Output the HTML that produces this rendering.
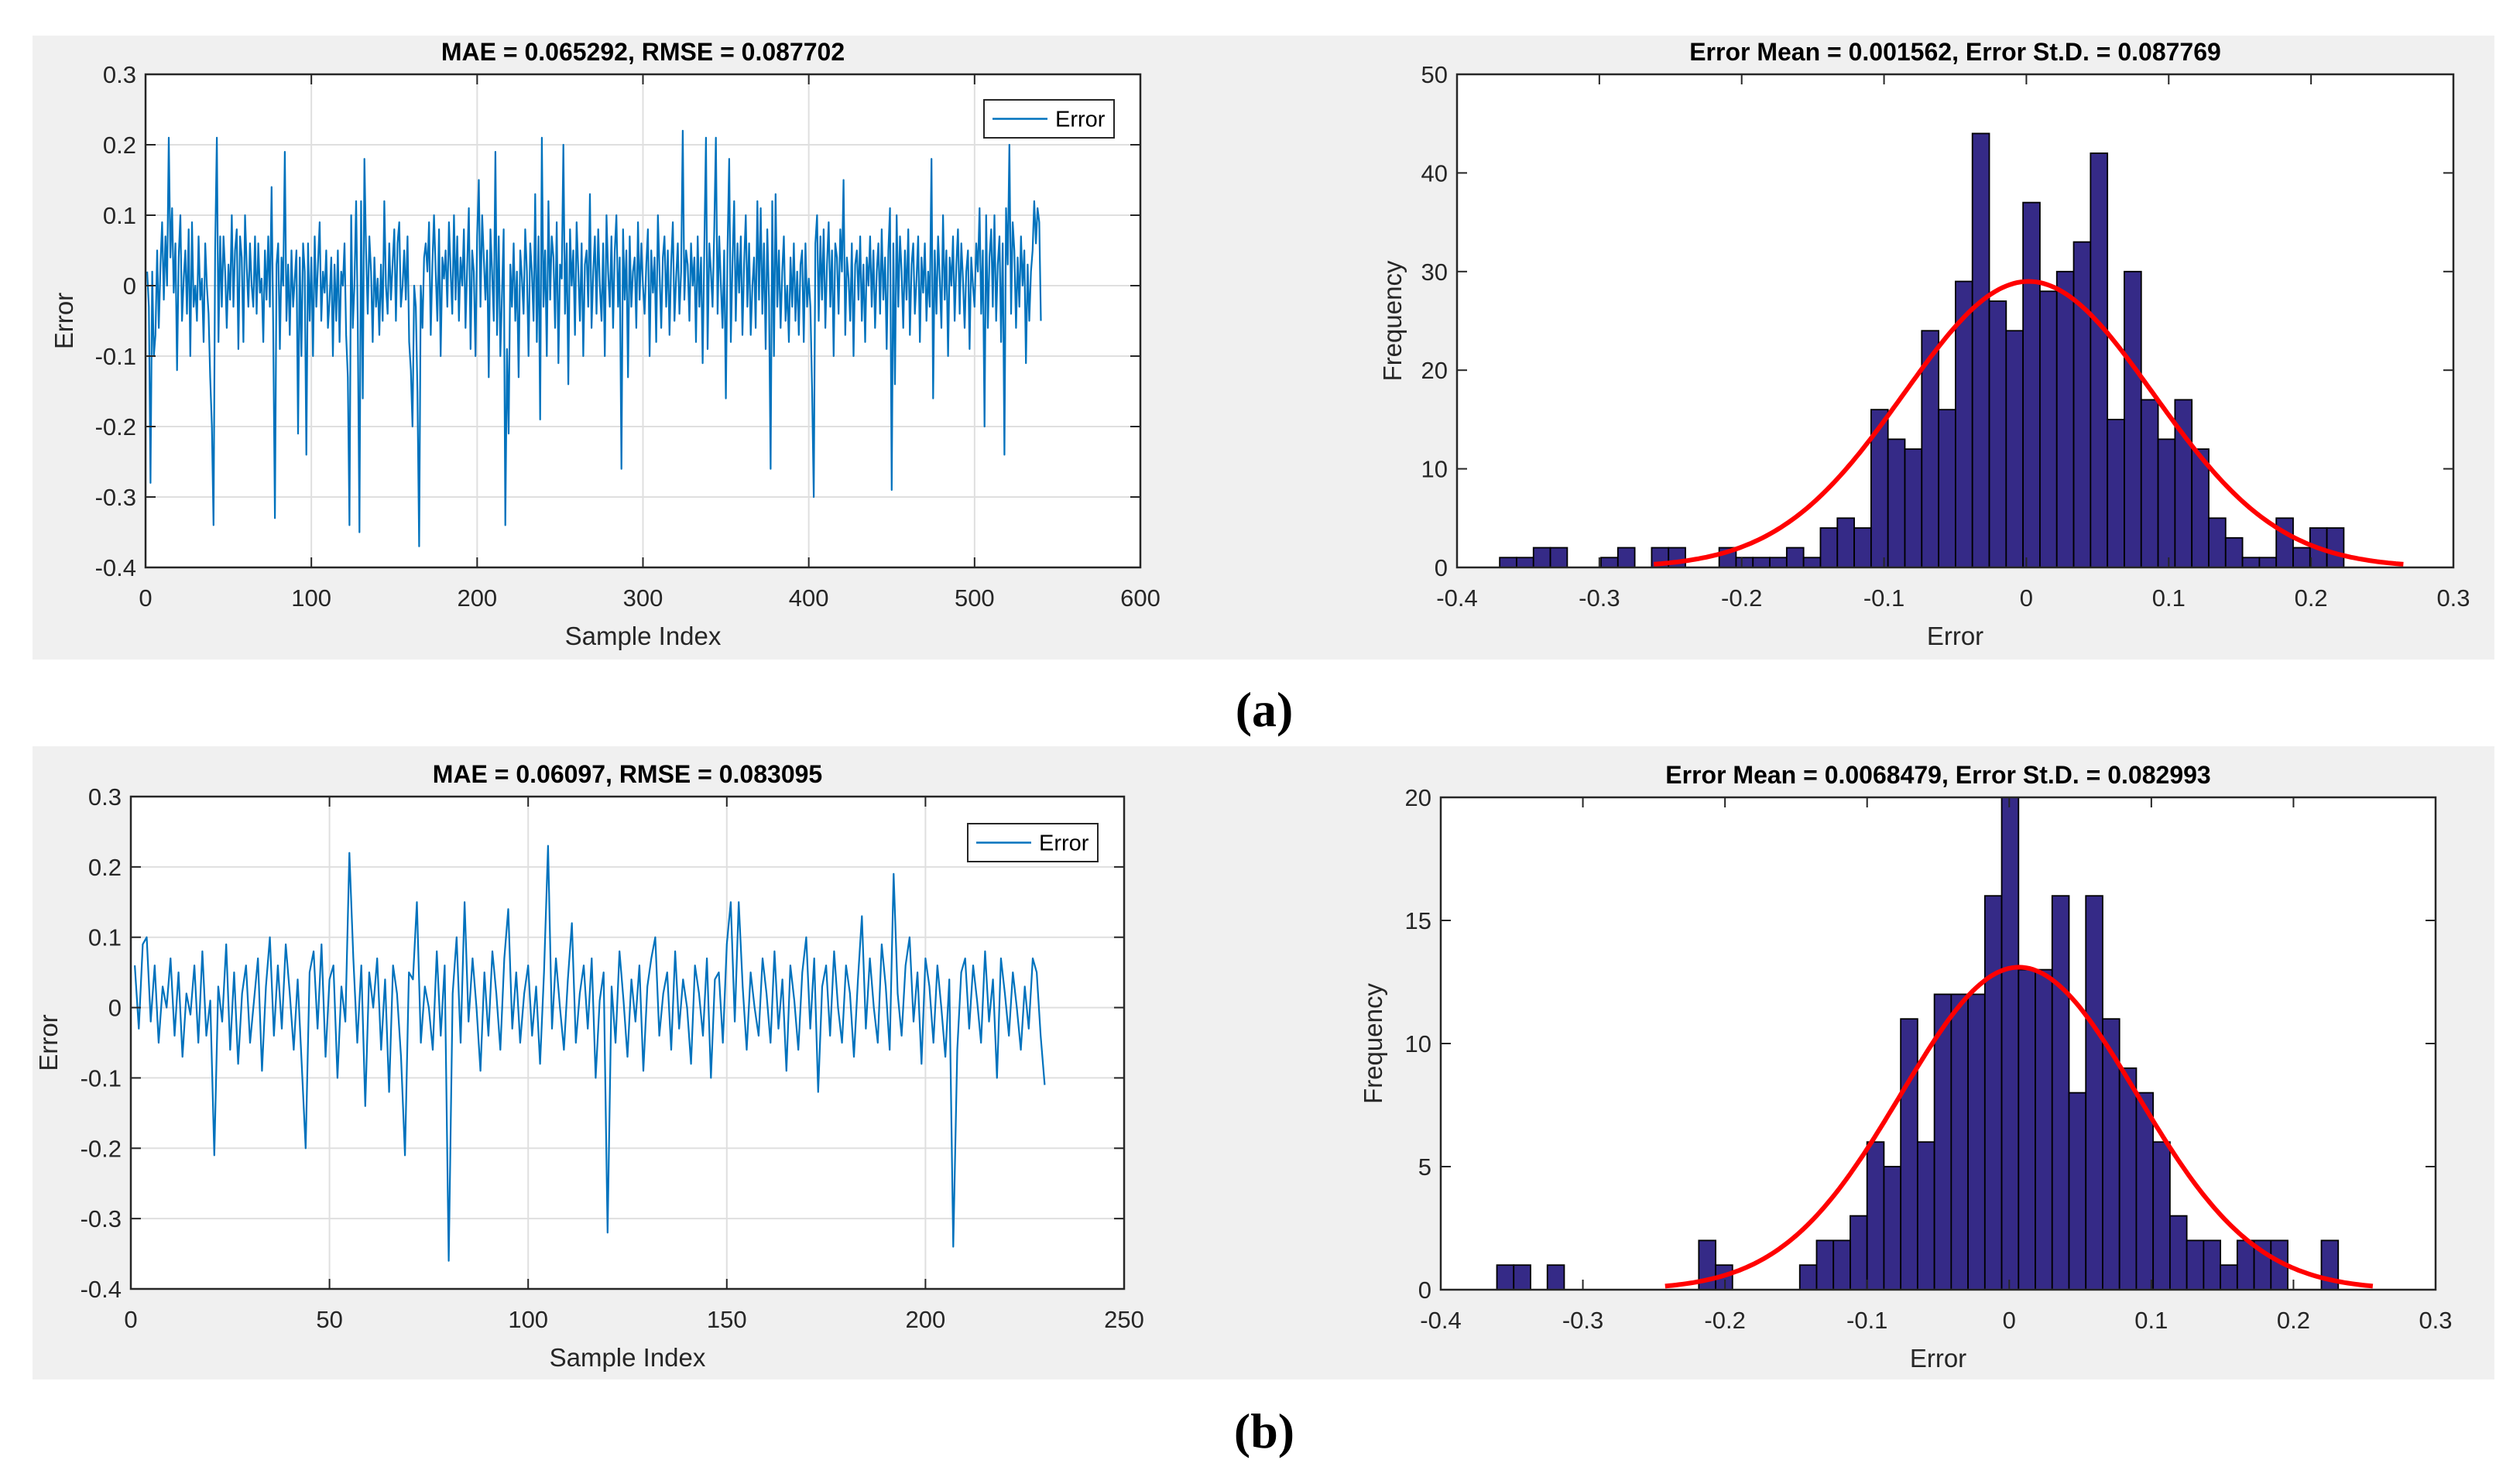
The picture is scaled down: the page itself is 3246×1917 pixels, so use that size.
<!DOCTYPE html>
<html><head><meta charset="utf-8"><style>
html,body{margin:0;padding:0;background:#fff;}
svg{display:block;font-family:"Liberation Sans",sans-serif;}
</style></head><body>
<svg id="fig" width="3246" height="1917" viewBox="0 0 3246 1917" xmlns="http://www.w3.org/2000/svg">
<rect x="42" y="46" width="3180" height="806" fill="#f0f0f0"/>
<rect x="42" y="964" width="3180" height="818" fill="#f0f0f0"/>
<text x="1633" y="938" font-family="Liberation Serif,serif" font-size="64" font-weight="bold" text-anchor="middle">(a)</text>
<text x="1633" y="1870" font-family="Liberation Serif,serif" font-size="64" font-weight="bold" text-anchor="middle">(b)</text>
</svg>
<script>
// ---- data: panel (a) error series ----
const errA = [
0.02,-0.03,-0.28,0.02,-0.1,-0.07,0.05,-0.06,0.03,0.09,-0.02,0.07,0.0,0.21,0.04,0.11,-0.01,0.06,-0.12,0.04,
0.1,-0.05,0.01,0.05,-0.04,0.08,-0.1,0.09,-0.03,0.0,-0.05,0.07,-0.02,0.01,-0.08,0.06,0.0,-0.04,-0.13,-0.2,
-0.34,0.05,0.21,-0.08,0.07,-0.03,0.07,0.02,-0.06,0.03,-0.02,0.1,-0.03,0.05,0.08,-0.09,0.07,0.04,-0.08,0.1,
0.03,-0.03,0.06,0.0,-0.03,0.07,-0.04,0.06,-0.01,0.01,-0.08,0.05,-0.02,0.07,-0.03,0.14,-0.06,-0.33,0.03,0.06,
-0.09,0.04,0.0,0.19,-0.05,0.03,-0.07,0.05,-0.03,0.01,0.05,-0.21,0.04,-0.1,0.06,0.02,-0.24,0.06,-0.05,0.04,
-0.1,0.07,-0.03,0.03,0.09,-0.05,0.02,-0.01,0.05,-0.06,-0.02,0.04,-0.1,0.03,-0.05,0.05,-0.08,0.02,0.0,0.06,
-0.07,-0.13,-0.34,0.1,-0.06,0.0,0.12,-0.05,-0.35,0.12,-0.16,0.18,0.05,-0.04,0.07,0.02,-0.08,0.04,-0.03,0.01,
-0.07,0.03,-0.05,0.12,0.0,-0.04,0.06,-0.02,0.03,0.08,-0.05,0.06,0.09,-0.03,0.0,0.05,-0.02,0.07,-0.08,-0.12,
-0.2,0.0,-0.03,-0.15,-0.37,0.0,-0.06,0.04,0.06,0.02,0.09,-0.07,0.03,0.1,0.02,-0.05,0.08,-0.1,0.04,0.01,
0.05,-0.03,0.09,0.02,-0.04,0.1,-0.02,0.07,-0.05,0.04,0.0,0.08,-0.06,0.03,0.11,-0.09,0.05,0.02,-0.1,0.07,
0.15,-0.03,0.1,0.04,-0.02,0.05,-0.13,0.08,0.02,-0.05,0.19,-0.07,0.07,-0.1,-0.01,0.08,-0.34,-0.09,-0.21,0.03,
-0.03,0.06,-0.05,0.02,-0.13,0.05,0.01,-0.04,0.08,0.02,-0.1,0.06,0.02,-0.05,0.13,-0.08,0.07,-0.19,0.21,-0.03,
0.05,-0.1,0.12,-0.02,0.07,0.04,-0.06,0.09,-0.11,0.03,0.01,0.2,-0.04,0.06,-0.14,0.08,0.0,0.05,-0.07,0.09,
0.02,-0.05,0.06,-0.1,0.03,0.05,-0.03,0.13,-0.06,0.02,0.07,-0.04,0.08,0.0,-0.05,0.06,-0.1,0.1,0.02,-0.03,
0.07,-0.06,0.05,0.1,-0.03,0.04,-0.26,0.08,-0.02,0.05,-0.13,0.07,-0.03,0.02,0.04,-0.06,0.09,-0.02,0.06,0.0,
-0.04,0.03,0.08,-0.1,0.05,-0.01,0.04,-0.08,0.1,0.02,-0.06,0.04,0.07,-0.03,0.05,-0.07,0.03,0.09,-0.05,0.01,
0.06,-0.04,0.02,0.22,-0.02,0.05,0.03,-0.05,0.06,0.0,0.04,-0.08,0.07,-0.03,0.04,-0.11,0.05,0.21,-0.09,0.06,
0.02,-0.03,0.08,0.21,-0.04,0.07,0.0,-0.06,0.05,-0.16,0.05,0.18,-0.08,0.03,0.12,-0.05,0.06,-0.01,0.07,-0.07,
0.03,0.1,-0.03,0.06,-0.07,0.0,0.04,-0.06,0.12,-0.02,0.11,-0.04,0.06,-0.09,0.08,-0.02,-0.26,0.12,-0.1,0.13,
-0.03,0.05,-0.06,0.02,0.07,-0.05,0.0,-0.08,0.04,-0.03,0.06,-0.05,0.02,-0.07,0.03,0.05,-0.08,0.06,-0.03,0.01,
-0.03,-0.15,-0.3,0.06,0.1,-0.05,0.07,-0.02,0.08,-0.06,0.03,0.09,-0.03,0.05,-0.1,0.06,0.04,-0.04,0.08,0.02,
0.15,-0.07,0.04,0.01,-0.05,0.06,-0.1,0.03,0.05,-0.02,0.07,-0.05,0.03,-0.08,0.04,0.0,0.07,-0.03,0.05,-0.06,
0.02,0.06,-0.04,0.08,-0.02,0.04,-0.09,0.05,0.11,-0.29,0.06,-0.14,0.1,-0.03,0.07,0.02,-0.06,0.05,-0.02,0.08,
-0.07,0.03,0.06,-0.04,0.01,0.07,-0.08,0.04,-0.01,0.06,-0.05,0.02,-0.03,0.18,-0.16,0.05,-0.04,0.07,0.01,-0.06,
0.1,-0.02,0.05,-0.1,0.04,0.0,0.07,-0.05,0.03,0.08,-0.04,0.06,0.01,-0.06,0.02,0.05,-0.09,0.04,0.0,-0.03,
0.06,0.02,0.11,-0.04,0.05,-0.2,0.1,-0.06,0.04,0.08,-0.03,0.1,-0.05,0.03,0.07,-0.08,0.06,-0.24,0.11,0.03,
0.2,-0.04,0.09,0.05,-0.06,0.04,-0.03,0.07,0.0,0.05,-0.11,0.03,-0.05,0.02,0.05,0.12,0.06,0.11,0.09,-0.05];
// ---- data: panel (b) error series ----
const errB = [
0.06,-0.03,0.09,0.1,-0.02,0.06,-0.05,0.03,0.0,0.07,-0.04,0.05,-0.07,0.02,-0.01,0.06,-0.05,0.08,-0.04,0.01,
-0.21,0.03,-0.02,0.09,-0.06,0.05,-0.08,0.02,0.06,-0.05,0.01,0.07,-0.09,0.03,0.1,-0.04,0.06,-0.03,0.09,0.02,
-0.06,0.04,-0.08,-0.2,0.05,0.08,-0.03,0.09,-0.07,0.04,0.06,-0.1,0.03,-0.02,0.22,0.07,-0.05,0.06,-0.14,0.05,
0.0,0.07,-0.06,0.04,-0.12,0.06,0.02,-0.07,-0.21,0.05,0.04,0.15,-0.05,0.03,0.0,-0.06,0.08,-0.04,0.06,-0.36,
0.02,0.1,-0.05,0.15,-0.02,0.07,0.0,-0.09,0.05,-0.04,0.08,0.02,-0.06,0.07,0.14,-0.03,0.05,-0.05,0.02,0.06,
-0.04,0.03,-0.08,0.05,0.23,-0.03,0.07,0.0,-0.06,0.04,0.12,-0.05,0.02,0.06,-0.03,0.07,-0.1,0.01,0.05,-0.32,
0.03,-0.05,0.08,0.01,-0.07,0.04,-0.02,0.06,-0.09,0.03,0.07,0.1,-0.04,0.02,0.05,-0.06,0.08,-0.03,0.04,0.0,
-0.08,0.06,0.02,-0.04,0.07,-0.1,0.04,0.05,-0.05,0.09,0.15,-0.02,0.15,0.03,-0.06,0.05,0.0,-0.04,0.07,0.02,
-0.05,0.08,-0.03,0.04,-0.09,0.06,0.01,-0.06,0.05,0.1,-0.03,0.07,-0.12,0.03,0.06,-0.04,0.08,0.0,-0.05,0.06,
0.02,-0.07,0.04,0.13,-0.03,0.07,0.0,-0.05,0.09,0.03,-0.06,0.19,0.02,-0.04,0.06,0.1,-0.02,0.05,-0.08,0.07,
0.03,-0.05,0.06,0.0,-0.07,0.04,-0.34,-0.06,0.05,0.07,-0.03,0.06,0.01,-0.05,0.08,-0.02,0.04,-0.1,0.07,0.02,
-0.04,0.05,0.0,-0.06,0.03,-0.03,0.07,0.05,-0.04,-0.11];
// ---- data: histogram counts ----
const histA = [1,1,2,2,0,0,1,2,0,2,2,0,0,2,1,1,1,2,1,4,5,4,16,13,12,24,16,29,44,27,24,37,28,30,33,42,15,30,17,13,17,12,5,3,1,1,5,2,4,4];
const histAStart = -0.370, histABinW = 0.01186;
const histB = [1,1,0,1,0,0,0,0,0,0,0,0,2,1,0,0,0,0,1,2,2,3,6,5,11,6,12,12,12,16,20,13,13,16,8,16,11,9,8,6,3,2,2,1,2,2,2,0,0,2];
const histBStart = -0.3605, histBBinW = 0.01184;
// normal fit parameters (mean, std, peak height)
const fitA = [0.001562, 0.087769, 29];
const fitB = [0.0068479, 0.082993, 13.1];
// tick labels
const lineYTicks = [-0.4,-0.3,-0.2,-0.1,0,0.1,0.2,0.3];
const xTicksA = [0,100,200,300,400,500,600];
const xTicksB = [0,50,100,150,200,250];
const histXTicks = [-0.4,-0.3,-0.2,-0.1,0,0.1,0.2,0.3];
const histYTicksA = [0,10,20,30,40,50];
const histYTicksB = [0,5,10,15,20];
const titles = ["MAE = 0.065292, RMSE = 0.087702","Error Mean = 0.001562, Error St.D. = 0.087769","MAE = 0.06097, RMSE = 0.083095","Error Mean = 0.0068479, Error St.D. = 0.082993"];

const NS="http://www.w3.org/2000/svg";
const svg=document.getElementById('fig');
function mk(tag,attrs,parent){const e=document.createElementNS(NS,tag);for(const k in attrs)e.setAttribute(k,attrs[k]);(parent||svg).appendChild(e);return e;}

function axes(o){
  const g=mk('g',{});
  
  
  const sx=v=>o.L+(v-o.xmin)/(o.xmax-o.xmin)*(o.R-o.L);
  const sy=v=>o.B-(v-o.ymin)/(o.ymax-o.ymin)*(o.B-o.T);
  const bg=mk('rect',{x:o.L,y:o.T,width:o.R-o.L,height:o.B-o.T,fill:'#fff'},g);
  
  
  if(o.grid){
    o.xt.forEach(v=>{const l=mk('line',{x1:sx(v),x2:sx(v),y1:o.T,y2:o.B,stroke:'#dfdfdf','stroke-width':2},g);
      
      });
    o.yt.forEach(v=>{const l=mk('line',{x1:o.L,x2:o.R,y1:sy(v),y2:sy(v),stroke:'#dfdfdf','stroke-width':2},g);
      
      });
  }
  return {g,sx,sy};
}
function frame(o,a){
  const g=a.g,sx=a.sx,sy=a.sy;
  o.xt.forEach(v=>{
    mk('line',{x1:sx(v),x2:sx(v),y1:o.B,y2:o.B-13,stroke:'#262626','stroke-width':2},g);
    mk('line',{x1:sx(v),x2:sx(v),y1:o.T,y2:o.T+13,stroke:'#262626','stroke-width':2},g);
    const t=mk('text',{x:sx(v),y:o.B+50,'font-size':31,fill:'#262626','text-anchor':'middle'},g);
    t.textContent=o.xfmt?o.xfmt(v):String(v);
    
    
  });
  o.yt.forEach(v=>{
    mk('line',{x1:o.L,x2:o.L+13,y1:sy(v),y2:sy(v),stroke:'#262626','stroke-width':2},g);
    mk('line',{x1:o.R,x2:o.R-13,y1:sy(v),y2:sy(v),stroke:'#262626','stroke-width':2},g);
    const t=mk('text',{x:o.L-12,y:sy(v)+11,'font-size':31,fill:'#262626','text-anchor':'end'},g);
    t.textContent=o.yfmt?o.yfmt(v):String(v);
    
    
  });
  const fr=mk('rect',{x:o.L,y:o.T,width:o.R-o.L,height:o.B-o.T,fill:'none',stroke:'#262626','stroke-width':2.5},g);
  
  
  const ti=mk('text',{x:(o.L+o.R)/2,y:o.T-18,'font-size':32,'font-weight':'bold',fill:'#000','text-anchor':'middle'},g);
  ti.textContent=o.title;
  
  
  const xl=mk('text',{x:(o.L+o.R)/2,y:o.B+100,'font-size':33,fill:'#262626','text-anchor':'middle'},g);
  xl.textContent=o.xlabel;
  
  
  const yl=mk('text',{x:o.ylx,y:(o.T+o.B)/2,'font-size':33,fill:'#262626','text-anchor':'middle',transform:`rotate(-90 ${o.ylx} ${(o.T+o.B)/2})`},g);
  yl.textContent=o.ylabel;
  
  
}
function linePlot(o,data,leg){
  const a=axes(o);
  let d='';data.forEach((v,i)=>{d+=(i?'L':'M')+a.sx(i+1).toFixed(1)+','+a.sy(v).toFixed(1);});
  const p=mk('path',{d,fill:'none',stroke:'#0072bd','stroke-width':2.2,'stroke-linejoin':'round'},a.g);
  
  
  frame(o,a);
  const lg=mk('g',{},a.g);
  
  
  mk('rect',{x:leg[0],y:leg[1],width:leg[2],height:leg[3],fill:'#fff',stroke:'#262626','stroke-width':2},lg);
  mk('line',{x1:leg[0]+11,x2:leg[0]+82,y1:leg[1]+leg[3]/2,y2:leg[1]+leg[3]/2,stroke:'#0072bd','stroke-width':2.5},lg);
  const lt=mk('text',{x:leg[0]+92,y:leg[1]+leg[3]/2+10,'font-size':29,fill:'#000'},lg);
  lt.textContent='Error';
  
  
}
function histPlot(o,counts,start,w,fit){
  const a=axes(o);
  counts.forEach((c,i)=>{
    if(c<=0)return;
    const x0=a.sx(start+i*w),x1=a.sx(start+(i+1)*w);
    const r=mk('rect',{x:x0,y:a.sy(c),width:x1-x0,height:a.sy(0)-a.sy(c),fill:'#352a87',stroke:'#000','stroke-width':1.8},a.g);
    
    
  });
  const [m,s,pk]=fit;let d='';
  for(let k=0;k<=200;k++){const x=m-3*s+6*s*k/200;const y=pk*Math.exp(-0.5*((x-m)/s)**2);d+=(k?'L':'M')+a.sx(x).toFixed(1)+','+a.sy(y).toFixed(1);}
  const p=mk('path',{d,fill:'none',stroke:'#ff0000','stroke-width':6},a.g);
  
  
  frame(o,a);
}
const f1=v=>v===0?'0':v.toFixed(1);
linePlot({name:'error-series-a',L:188,R:1473,T:96,B:733,xmin:0,xmax:600,ymin:-0.4,ymax:0.3,xt:xTicksA,yt:lineYTicks,yfmt:f1,grid:true,title:titles[0],xlabel:'Sample Index',ylabel:'Error',ylx:94},errA,[1271,129,168,49]);
histPlot({name:'error-histogram-a',L:1882,R:3169,T:96,B:733,xmin:-0.4,xmax:0.3,ymin:0,ymax:50,xt:histXTicks,yt:histYTicksA,xfmt:f1,title:titles[1],xlabel:'Error',ylabel:'Frequency',ylx:1810},histA,histAStart,histABinW,fitA);
linePlot({name:'error-series-b',L:169,R:1452,T:1029,B:1665,xmin:0,xmax:250,ymin:-0.4,ymax:0.3,xt:xTicksB,yt:lineYTicks,yfmt:f1,grid:true,title:titles[2],xlabel:'Sample Index',ylabel:'Error',ylx:74},errB,[1250,1064,168,49]);
histPlot({name:'error-histogram-b',L:1861,R:3146,T:1030,B:1666,xmin:-0.4,xmax:0.3,ymin:0,ymax:20,xt:histXTicks,yt:histYTicksB,xfmt:f1,title:titles[3],xlabel:'Error',ylabel:'Frequency',ylx:1785},histB,histBStart,histBBinW,fitB);
</script>
</body></html>
